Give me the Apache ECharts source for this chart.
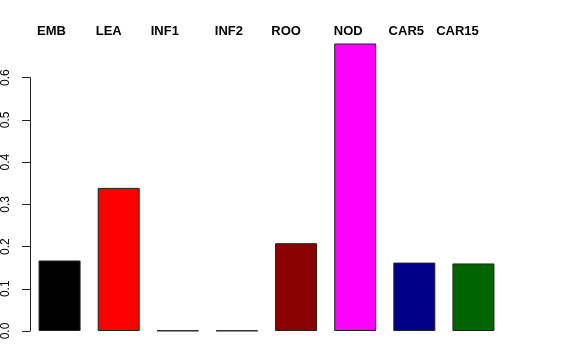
<!DOCTYPE html>
<html>
<head>
<meta charset="utf-8">
<script src="https://cdn.jsdelivr.net/npm/echarts@6/dist/echarts.min.js"></script>
<style>html,body{margin:0;padding:0;background:#fff;}#c{width:576px;height:360px;}</style>
</head>
<body>
<div id="c"></div>
<script>
var categories = ['EMB', 'LEA', 'INF1', 'INF2', 'ROO', 'NOD', 'CAR5', 'CAR15'];
var values = [0.167, 0.339, 0.001, 0.001, 0.208, 0.681, 0.162, 0.160];
var colors = ['#000000', '#FF0000', '#00CD00', '#0000FF', '#8B0000', '#FF00FF', '#00008B', '#006400'];
var yTicks = [0.0, 0.1, 0.2, 0.3, 0.4, 0.5, 0.6];
// horizontal nudge (px, leftwards) of each header label
var labelShift = [8, 10, 13, 8, 10, 7, 8, 16];

var rich = {};
categories.forEach(function (c, i) {
  rich['r' + i] = { padding: [0, 2 * labelShift[i], 0, 0], fontWeight: 'bold', fontSize: 13, color: '#000', fontFamily: 'Liberation Sans, Arial, sans-serif' };
});

var chart = echarts.init(document.getElementById('c'), null, { renderer: 'canvas' });
chart.setOption({
  backgroundColor: '#ffffff',
  animation: false,
  grid: { left: 29.7, right: 73, top: 77.7, bottom: 29 },
  xAxis: {
    type: 'category',
    position: 'top',
    data: categories,
    axisLine: { show: false },
    axisTick: { show: false },
    axisLabel: {
      margin: 40,
      interval: 0,
      formatter: function (v, i) { return '{r' + i + '|' + v + '}'; },
      rich: rich
    }
  },
  yAxis: {
    type: 'value',
    min: yTicks[0],
    max: yTicks[yTicks.length - 1],
    interval: 0.1,
    splitLine: { show: false },
    axisLine: { show: true, lineStyle: { color: '#222', width: 1 } },
    axisTick: { show: true, length: 8, lineStyle: { color: '#222' } },
    axisLabel: {
      rotate: 90,
      margin: 18,
      fontSize: 12,
      color: '#000',
      fontFamily: 'Liberation Sans, Arial, sans-serif',
      formatter: function (v) { return v.toFixed(1); }
    }
  },
  series: [{
    type: 'bar',
    clip: false,
    barWidth: 42,
    data: values.map(function (v, i) {
      return { value: v, itemStyle: { color: colors[i] } };
    }),
    itemStyle: { borderColor: '#222', borderWidth: 1 }
  }]
});
</script>
</body>
</html>
